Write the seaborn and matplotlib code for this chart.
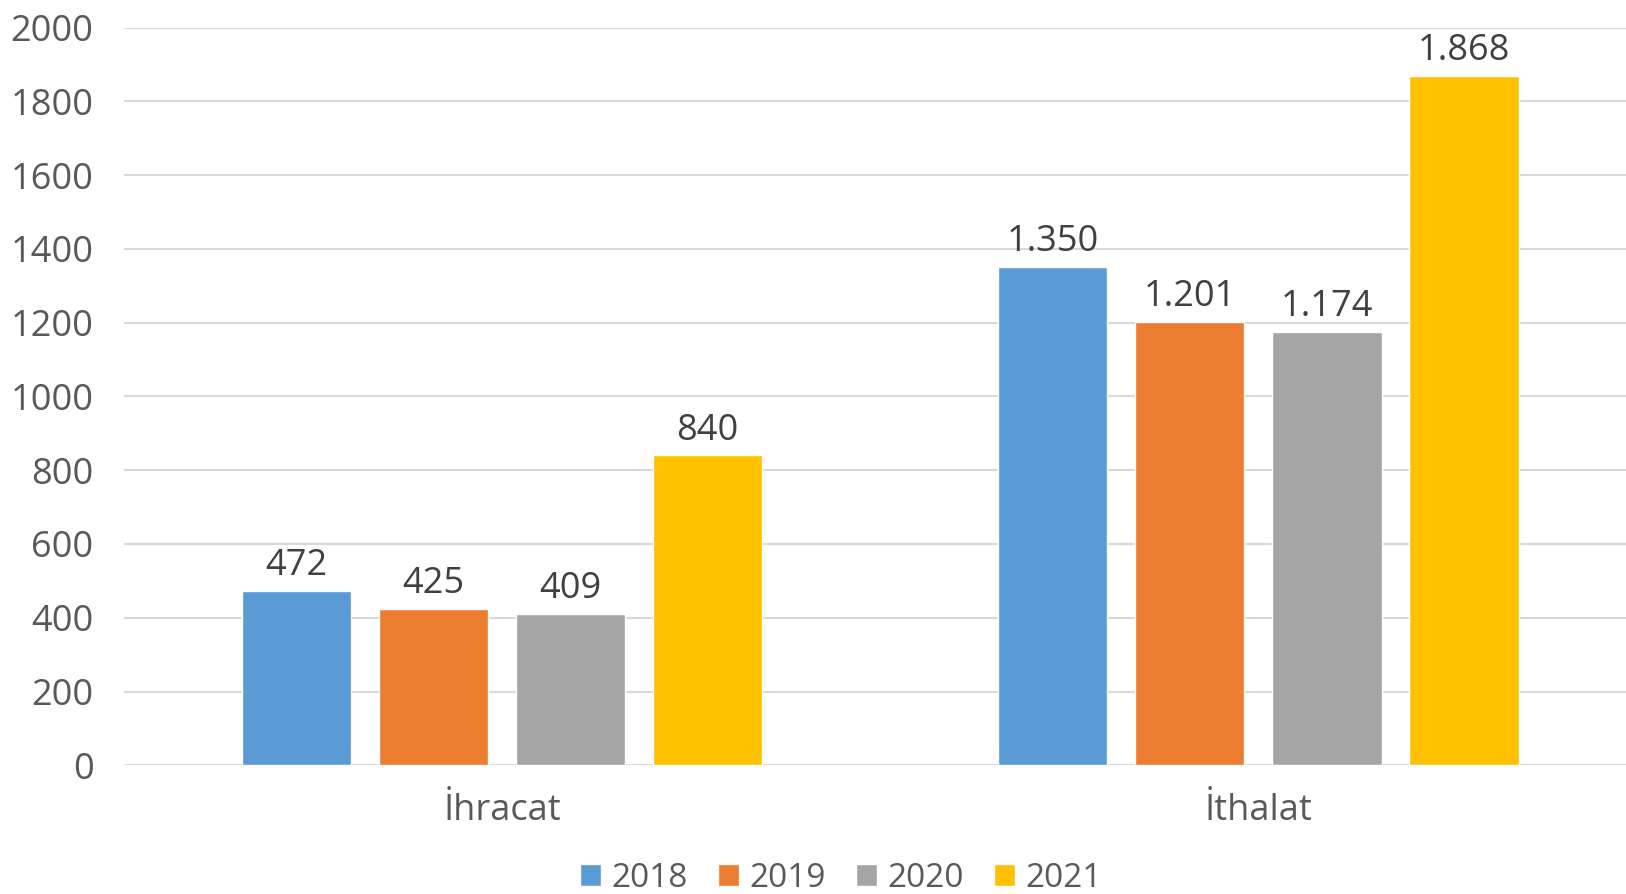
import matplotlib
matplotlib.use("Agg")
import matplotlib.pyplot as plt
import seaborn as sns
import pandas as pd

categories = ["İhracat", "İthalat"]
years = ["2018", "2019", "2020", "2021"]
v2018 = [472, 1350]
v2019 = [425, 1201]
v2020 = [409, 1174]
v2021 = [840, 1868]
labels2018 = ["472", "1.350"]
labels2019 = ["425", "1.201"]
labels2020 = ["409", "1.174"]
labels2021 = ["840", "1.868"]
colors = ["#5B9BD5", "#ED7D31", "#A5A5A5", "#FFC000"]
yticks = [0, 200, 400, 600, 800, 1000, 1200, 1400, 1600, 1800, 2000]

rows = []
for y, vals in zip(years, [v2018, v2019, v2020, v2021]):
    for c, v in zip(categories, vals):
        rows.append({"cat": c, "year": y, "value": v})
df = pd.DataFrame(rows)

sns.set_theme(style="white")
plt.rcParams["font.family"] = ["Open Sans", "DejaVu Sans"]
txt = "#595959"

fig = plt.figure(figsize=(16.26, 8.94), dpi=100)
ax = fig.add_axes([0.0763, 0.144, 0.930, 0.825])
sns.barplot(data=df, x="cat", y="value", hue="year", palette=colors,
            width=0.725, gap=0.20, ax=ax, saturation=1, legend=True)

all_labels = [labels2018, labels2019, labels2020, labels2021]
for cont, labs in zip(ax.containers, all_labels):
    ax.bar_label(cont, labels=labs, padding=5, fontsize=26, color="#404040")

ax.set_ylim(0, 2000)
ax.set_xlim(-0.5, 1.5)
ax.set_yticks(yticks)
ax.set_yticklabels([str(t) for t in yticks])
ax.yaxis.grid(True, color="#d9d9d9", linewidth=1.5)
ax.set_axisbelow(True)
for s in ax.spines.values():
    s.set_visible(False)
ax.tick_params(axis="y", labelsize=26, colors=txt, length=0, pad=22)
ax.tick_params(axis="x", labelsize=26, colors=txt, length=0, pad=20)
ax.set_xlabel("")
ax.set_ylabel("")

leg = ax.legend(loc="center", bbox_to_anchor=(0.474, -0.153), ncol=4, frameon=False,
                fontsize=24, handlelength=0.63, handleheight=0.63, handletextpad=0.31,
                columnspacing=0.9)
for t in leg.get_texts():
    t.set_color(txt)

fig.savefig("out.png", dpi=100)
